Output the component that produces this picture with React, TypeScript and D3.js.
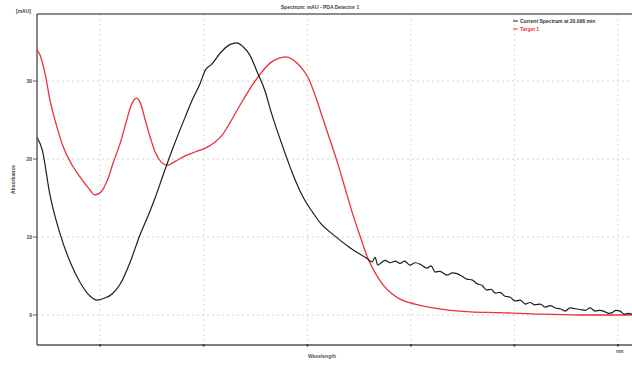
import React from "react";
import * as d3 from "d3";

// Wavelength [nm] / absorbance [mAU]
const currentWl = [207.8, 208.8, 210.3, 212.3, 214.2, 216.1, 218.1, 219.4, 221.0, 222.3, 223.9, 225.8, 227.7, 229.3, 230.6, 232.5, 234.1, 236.0, 237.8, 239.3, 240.3, 241.6, 243.2, 245.1, 246.4, 247.6, 249.0, 250.3, 251.9, 252.8, 255.3, 257.3, 259.2, 261.1, 262.5, 265.0, 268.3, 271.6, 272.5, 273.1, 273.6, 274.1, 275.0, 276.0, 277.0, 277.9, 278.8, 279.8, 280.8, 281.8, 282.5, 283.1, 283.9, 284.7, 285.6, 287.0, 288.0, 288.9, 289.8, 290.8, 291.8, 292.8, 293.7, 294.7, 295.5, 296.3, 297.2, 298.2, 299.1, 300.1, 301.1, 302.1, 303.0, 304.0, 305.0, 305.9, 306.9, 307.9, 308.8, 309.8, 310.7, 311.7, 312.7, 313.7, 314.6, 315.6, 316.5, 317.5, 318.2, 318.9, 319.6, 320.4, 321.2, 322.0, 322.7];
const currentAbs = [22.8, 21.2, 15.4, 10.3, 6.8, 4.2, 2.4, 1.9, 2.2, 2.7, 4.0, 6.8, 10.3, 12.8, 15.0, 18.6, 21.5, 24.7, 27.6, 29.7, 31.4, 32.2, 33.6, 34.7, 34.9, 34.4, 33.2, 31.2, 28.6, 26.5, 21.5, 17.9, 15.1, 13.1, 11.8, 10.3, 8.6, 7.2, 6.8, 7.4, 6.4, 6.6, 7.0, 6.7, 6.9, 6.6, 6.9, 6.4, 6.7, 6.5, 6.2, 6.0, 6.3, 5.5, 5.6, 5.1, 5.4, 5.3, 5.0, 4.6, 4.5, 4.0, 3.8, 3.2, 3.3, 2.8, 2.9, 2.4, 2.3, 1.8, 1.9, 1.4, 1.6, 1.3, 1.4, 1.0, 1.2, 0.9, 0.8, 0.5, 0.9, 0.8, 0.7, 0.6, 0.9, 0.5, 0.6, 0.4, 0.2, 0.3, 0.6, 0.5, 0.1, 0.2, 0.1];

const refWl = [207.8, 208.4, 209.4, 210.3, 211.7, 212.9, 214.6, 216.1, 217.7, 219.0, 220.2, 221.4, 222.5, 223.9, 225.0, 226.0, 227.0, 227.7, 228.7, 229.7, 230.6, 231.8, 233.0, 234.5, 236.4, 238.3, 240.3, 242.2, 243.6, 245.1, 247.0, 249.0, 250.9, 252.8, 254.4, 255.7, 257.1, 258.6, 260.2, 261.7, 263.1, 264.4, 265.8, 267.4, 268.7, 270.3, 271.6, 273.1, 274.7, 276.4, 278.3, 280.8, 284.3, 287.6, 291.5, 297.2, 305.0, 312.7, 322.7];
const refAbs = [34.0, 33.3, 30.8, 27.6, 24.0, 21.5, 19.2, 17.7, 16.3, 15.4, 15.8, 17.3, 19.5, 22.1, 24.7, 26.9, 27.8, 27.3, 25.0, 22.7, 20.9, 19.6, 19.2, 19.7, 20.4, 20.9, 21.4, 22.2, 23.1, 24.7, 26.9, 29.1, 30.9, 32.3, 32.9, 33.1, 32.8, 31.9, 30.4, 27.8, 25.0, 22.4, 19.6, 16.0, 13.1, 9.9, 7.4, 5.4, 3.8, 2.7, 1.9, 1.4, 0.9, 0.6, 0.4, 0.3, 0.1, 0.0, 0.0];

const xTicks = [220, 240, 260, 280, 300, 320];
const yTicks = [0, 10, 20, 30];
const yTickLabels = ["0", "10", "20", "30"];

const seriesNames = ["Current Spectrum at 20.098 min", "Target 1"];
const seriesColors = ["#1e1e1e", "#e8323c"];

const W = 632, H = 368;
const left = 37, top = 14, right = 632, bottom = 345;

export default function App() {
  const x = d3.scaleLinear().domain([207.8, 322.7]).range([left, right]);
  const y = d3.scaleLinear().domain([-3.85, 38.6]).range([bottom, top]);

  const line = d3.line<[number, number]>()
    .x(d => x(d[0]))
    .y(d => y(d[1]))
    .curve(d3.curveMonotoneX);

  const cur = currentWl.map((w, i) => [w, currentAbs[i]] as [number, number]);
  const ref = refWl.map((w, i) => [w, refAbs[i]] as [number, number]);

  const font = "'Liberation Sans', Arial, sans-serif";

  return (
    <svg width={W} height={H} style={{ position: "fixed", left: 0, top: 0, background: "#fff" }} fontFamily={font}>
      <rect width={W} height={H} fill="#fff" />
      <defs>
        <clipPath id="plot">
          <rect x={left} y={top} width={right - left} height={bottom - top} />
        </clipPath>
      </defs>

      {/* grid */}
      {yTicks.map(t => (
        <line key={"gy" + t} x1={left} x2={right} y1={y(t)} y2={y(t)} stroke="#c8c8c8" strokeWidth={0.8} strokeDasharray="2,3" />
      ))}
      {xTicks.map(t => (
        <line key={"gx" + t} x1={x(t)} x2={x(t)} y1={top} y2={bottom} stroke="#cfcfcf" strokeWidth={0.8} strokeDasharray="2,3" />
      ))}

      {/* spectra */}
      <g clipPath="url(#plot)">
        <path d={line(ref) || ""} fill="none" stroke={seriesColors[1]} strokeWidth={1.3} />
        <path d={line(cur) || ""} fill="none" stroke={seriesColors[0]} strokeWidth={1.2} />
      </g>

      {/* frame */}
      <line x1={left} x2={right} y1={top} y2={top} stroke="#666" strokeWidth={1.6} />
      <line x1={left} x2={left} y1={top} y2={bottom} stroke="#555" strokeWidth={1.4} />
      <line x1={left} x2={right} y1={bottom} y2={bottom} stroke="#555" strokeWidth={1.4} />

      {/* y ticks */}
      {yTicks.map((t, i) => (
        <g key={"yt" + t}>
          <line x1={left - 4} x2={left} y1={y(t)} y2={y(t)} stroke="#555" strokeWidth={1} />
          <text x={left - 5} y={y(t)} dy="0.35em" textAnchor="end" fontSize={5} fontWeight="bold" fill="#444">{yTickLabels[i]}</text>
        </g>
      ))}
      {/* x ticks */}
      {xTicks.map(t => (
        <rect key={"xt" + t} x={x(t) - 1} y={bottom - 1} width={2} height={2.5} fill="#444" />
      ))}

      {/* texts */}
      <text x={320} y={9} textAnchor="middle" fontSize={5} fontWeight="bold" fill="#444">Spectrum: mAU - PDA Detector 1</text>
      <text x={16} y={13} fontSize={5} fontWeight="bold" fill="#444">[mAU]</text>
      <text transform={`translate(15,${(top + bottom) / 2}) rotate(-90)`} textAnchor="middle" fontSize={5} fontWeight="bold" fill="#444">Absorbance</text>
      <text x={322} y={358} textAnchor="middle" fontSize={5} fontWeight="bold" fill="#555">Wavelength</text>
      <text x={616} y={353} fontSize={5} fontWeight="bold" fill="#555">nm</text>

      {/* legend */}
      {seriesNames.map((n, i) => (
        <g key={n} transform={`translate(513,${21 + i * 8})`}>
          <line x1={0} x2={5} y1={0} y2={0} stroke={seriesColors[i]} strokeWidth={1} />
          <text x={7} y={0} dy="0.35em" fontSize={5} fontWeight="bold" fill={i === 0 ? "#333" : seriesColors[1]}>{n}</text>
        </g>
      ))}
    </svg>
  );
}
